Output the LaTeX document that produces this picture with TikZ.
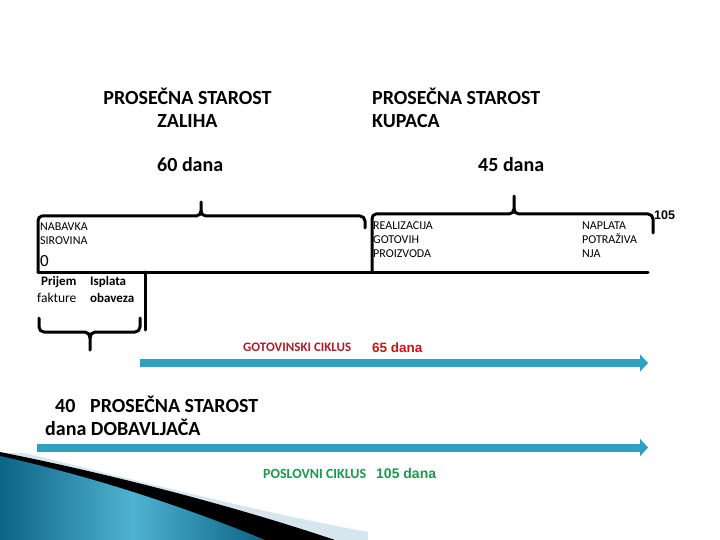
\documentclass[tikz,border=0pt]{standalone}
\usepackage{fontspec}
\setmainfont{Carlito}
\newfontfamily\arialf{Liberation Sans}
\usetikzlibrary{arrows.meta}
\definecolor{teal1}{RGB}{47,160,190}
\definecolor{darkred1}{RGB}{170,30,40}
\definecolor{red1}{RGB}{205,20,20}
\definecolor{green1}{RGB}{30,150,80}
\definecolor{lightband}{RGB}{214,230,238}
\definecolor{tealdark}{RGB}{12,100,132}
\definecolor{teallight}{RGB}{80,178,210}
\tikzset{
  brace/.style={line width=3pt, line cap=round, line join=round},
  title/.style={font=\fontsize{20}{24}\selectfont\bfseries, inner sep=0pt},
  small/.style={font=\fontsize{12}{14}\selectfont, inner sep=0pt, align=left},
  cyc/.style={line width=8pt, teal1, -{Triangle[length=8pt,width=17pt]}},
}
\begin{document}
\begin{tikzpicture}[x=1pt,y=-1pt]
\useasboundingbox (0,0) rectangle (720,540);
% background decoration
\fill[lightband] (25,453) .. controls (150,484) and (260,512) .. (368,532) -- (368,540) -- (0,540) -- (0,453) -- cycle;
\fill[black] (0,452) .. controls (120,476) and (240,508) .. (335,540) -- (0,540) -- cycle;
\shade[left color=tealdark, right color=tealdark, middle color=teallight] (0,456) .. controls (90,476) and (180,505) .. (265,540) -- (0,540) -- cycle;

% titles
\node[title, anchor=base] (t1) at (187.5,105) {PROSEČNA STAROST};
\node[title, anchor=base] (t2) at (187.5,128) {ZALIHA};
\node[title, anchor=base west] (t3) at (372,105) {PROSEČNA STAROST};
\node[title, anchor=base west] (t4) at (372,128) {KUPACA};
\node[title, anchor=base west] (d60) at (157,172) {60 dana};
\node[title, anchor=base west] (d45) at (478,172) {45 dana};

% timeline frame
\draw[brace] (38,272) -- (38,221) to[out=90,in=180] (42,216) -- (196,216) to[out=0,in=-90] (201,211) -- (201,202);
\draw[brace] (201,211) to[out=-90,in=180] (206,216) -- (360,216) to[out=0,in=90] (365,221) -- (365,228);
\draw[brace] (372,272) -- (372,219) to[out=90,in=180] (376,214) -- (509,214) to[out=0,in=-90] (514,209) -- (514,196);
\draw[brace] (514,209) to[out=-90,in=180] (519,214) -- (648,214) to[out=0,in=90] (653,219) -- (653,233);
\draw[brace] (38,272) -- (648,272);
\draw[brace] (145,272) -- (145,330);
\draw[brace] (39,318) -- (39,327) to[out=-90,in=180] (44,332) -- (85,332) to[out=0,in=90] (90,338) -- (90,350);
\draw[brace] (90,338) to[out=90,in=180] (95,332) -- (135,332) to[out=0,in=-90] (140,327) -- (140,318);

% small labels
\node[small, anchor=north west] (nab) at (40,223) {NABAVKA\\SIROVINA};
\node[inner sep=0pt, anchor=north west, font=\fontsize{17}{19}\selectfont] (zero) at (40,255) {0};
\node[small, anchor=north west] (real) at (373,222) {REALIZACIJA\\GOTOVIH\\PROIZVODA};
\node[small, anchor=north west] (nap) at (582,222) {NAPLATA\\POTRAŽIVA\\NJA};
\node[inner sep=0pt, anchor=base west, font=\arialf\bfseries\fontsize{12.5}{14}\selectfont] (n105) at (654,220) {105};

\node[inner sep=0pt, anchor=base west, font=\fontsize{13}{15}\selectfont\bfseries] (prij) at (41,285) {Prijem};
\node[inner sep=0pt, anchor=base west, font=\fontsize{13}{15}\selectfont\bfseries] (ispl) at (90,285) {Isplata};
\node[inner sep=0pt, anchor=base west, font=\fontsize{13.5}{15}\selectfont] (fakt) at (37,302) {fakture};
\node[inner sep=0pt, anchor=base west, font=\fontsize{13}{15}\selectfont\bfseries] (obav) at (90,302) {obaveza};

% supplier label
\node[title, anchor=base west] (s40) at (55,412) {40};
\node[title, anchor=base west] (s1) at (90,412) {PROSEČNA STAROST};
\node[title, anchor=base west] (s2) at (45,435) {dana DOBAVLJAČA};

% cycles
\coordinate (g1) at (140,363);
\coordinate (g2) at (648,363);
\coordinate (p1) at (37,447.5);
\coordinate (p2) at (648,447.5);
\draw[cyc] (g1) -- (g2);
\draw[cyc] (p1) -- (p2);
\node[inner sep=0pt, anchor=base west, text=darkred1, font=\fontsize{13}{15}\selectfont\bfseries] (gc) at (243,351) {GOTOVINSKI CIKLUS};
\node[inner sep=0pt, anchor=base west, text=red1, font=\arialf\bfseries\fontsize{13.5}{15}\selectfont] (g65) at (372,352) {65 dana};
\node[inner sep=0pt, anchor=base west, text=green1, font=\fontsize{14}{16}\selectfont\bfseries] (pc) at (263,478) {POSLOVNI CIKLUS};
\node[inner sep=0pt, anchor=base west, text=green1, font=\arialf\bfseries\fontsize{14}{16}\selectfont] (p105) at (376,478) {105 dana};
\end{tikzpicture}
\end{document}
